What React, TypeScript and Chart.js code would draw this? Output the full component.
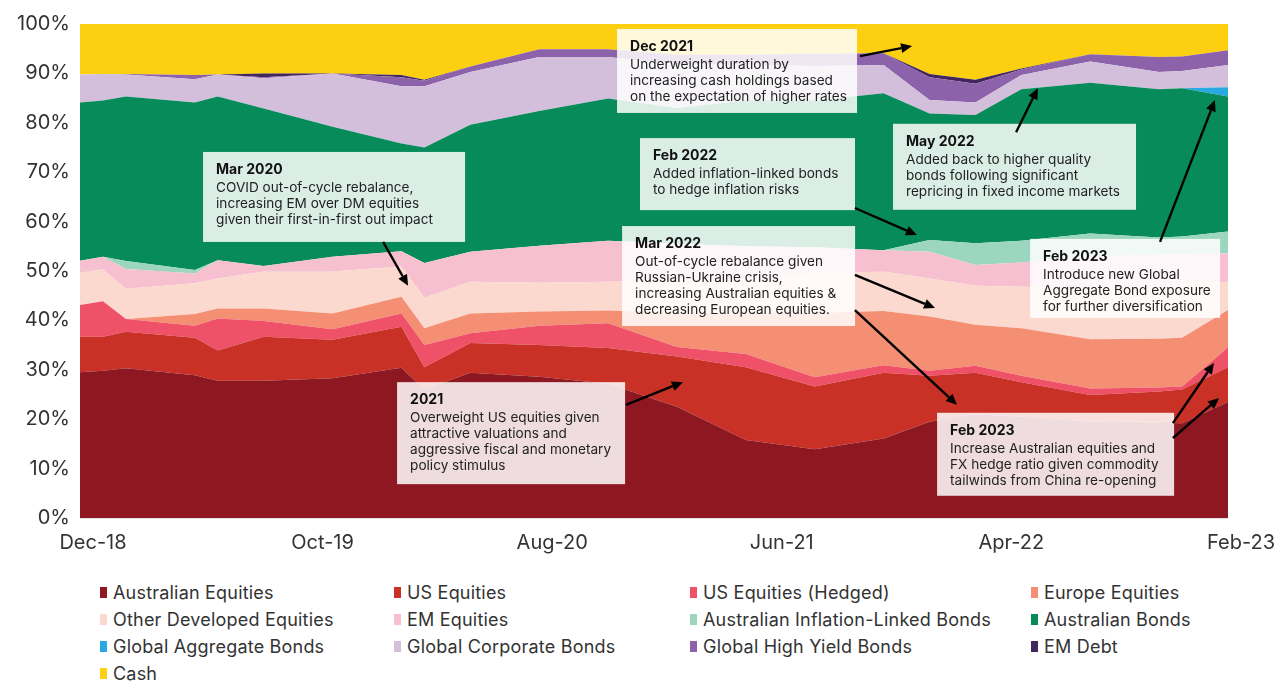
import { useEffect, useRef } from 'react';
import { Chart, registerables } from 'chart.js';

Chart.register(...registerables);

const FONT = 'Inter, "Noto Sans", "DejaVu Sans", sans-serif';

// months since Dec-18 at which allocations are recorded
const months = [0, 1, 2, 5, 6, 8, 11, 14, 15, 17, 20, 23, 26, 29, 32, 35, 37, 39, 41, 44, 47, 48, 50];
const xTickLabels = ['Dec-18', 'Oct-19', 'Aug-20', 'Jun-21', 'Apr-22', 'Feb-23'];

const australianEquities = [29.5, 29.8, 30.3, 28.9, 27.8, 27.8, 28.3, 30.4, 26.0, 29.4, 28.6, 27.2, 22.5, 15.8, 13.9, 16.1, 19.5, 21.0, 20.5, 19.5, 19.3, 19.2, 23.5];
const usEquities = [7.2, 6.9, 7.4, 7.6, 6.1, 8.9, 7.8, 8.3, 4.5, 6.0, 6.4, 7.2, 10.2, 14.7, 12.7, 13.3, 9.3, 8.4, 7.0, 5.4, 6.3, 6.8, 7.0];
const usEquitiesHedged = [6.4, 7.2, 2.6, 2.4, 6.5, 3.2, 2.1, 2.7, 4.5, 2.0, 3.9, 5.0, 1.9, 2.7, 1.9, 1.5, 1.0, 1.4, 1.3, 1.3, 0.8, 0.6, 4.0];
const europeEquities = [0, 0, 0, 2.4, 2.0, 2.5, 3.2, 3.4, 3.4, 4.0, 2.9, 2.6, 6.9, 8.3, 13.0, 11.0, 11.0, 8.3, 9.6, 10.0, 9.9, 9.9, 7.6];
const otherDevelopedEquities = [6.6, 6.4, 6.1, 6.2, 6.1, 7.5, 8.5, 6.1, 6.2, 6.4, 5.8, 5.8, 6.5, 7.0, 8.0, 8.0, 7.7, 7.9, 8.4, 10.3, 10.7, 10.8, 5.7];
const emEquities = [2.4, 2.6, 4.0, 2.0, 3.7, 1.1, 3.0, 3.1, 7.0, 6.1, 7.5, 8.3, 7.5, 6.5, 5.3, 4.3, 5.4, 4.2, 4.9, 6.5, 6.3, 6.1, 5.8];
const ausInflationLinked = [0, 0, 1.6, 0.7, 0, 0, 0, 0, 0, 0, 0, 0, 0, 0, 0, 0, 2.4, 4.4, 4.4, 4.6, 3.5, 3.6, 4.4];
const australianBonds = [32.0, 31.6, 33.3, 33.9, 33.1, 31.9, 26.3, 21.8, 23.4, 25.7, 27.3, 28.8, 27.5, 29.5, 29.7, 31.8, 25.6, 26.0, 30.7, 30.5, 30.0, 30.0, 27.3];
const globalAggregateBonds = [0, 0, 0, 0, 0, 0, 0, 0, 0, 0, 0, 0, 0, 0, 0, 0, 0, 0, 0, 0, 0, 0, 1.9];
const globalCorporateBonds = [5.7, 5.4, 4.5, 4.7, 4.5, 6.1, 10.8, 11.6, 12.4, 10.7, 10.9, 8.4, 8.8, 7.3, 7.0, 5.7, 2.7, 2.5, 2.9, 4.3, 3.5, 3.5, 4.5];
const globalHighYield = [0, 0, 0.1, 0.9, 0, 0.2, 0, 1.8, 1.1, 1.1, 1.6, 1.6, 2.0, 2.0, 2.5, 2.4, 4.6, 3.8, 1.1, 1.5, 3.0, 2.9, 3.0];
const emDebt = [0, 0, 0, 0, 0, 0.8, 0, 0.5, 0.2, 0, 0, 0, 0, 0, 0, 0, 0.7, 0.8, 0.2, 0, 0, 0, 0];
const cash = [10.2, 10.1, 10.1, 10.3, 10.2, 10.0, 10.0, 10.3, 11.3, 8.6, 5.1, 5.1, 6.2, 6.2, 6.0, 5.9, 10.1, 11.3, 9.0, 6.1, 6.7, 6.6, 5.3];

const seriesLabels = [
  'Australian Equities', 'US Equities', 'US Equities (Hedged)', 'Europe Equities',
  'Other Developed Equities', 'EM Equities', 'Australian Inflation-Linked Bonds', 'Australian Bonds',
  'Global Aggregate Bonds', 'Global Corporate Bonds', 'Global High Yield Bonds', 'EM Debt', 'Cash',
];
const seriesColors = [
  '#8e1822', '#c93127', '#ef5168', '#f48f74', '#fbd9cf', '#f7c0d1', '#9dd6bf', '#078b5b',
  '#28a9e1', '#d3bfdc', '#8c62aa', '#42275f', '#fccf10',
];
const seriesValues = [
  australianEquities, usEquities, usEquitiesHedged, europeEquities, otherDevelopedEquities, emEquities,
  ausInflationLinked, australianBonds, globalAggregateBonds, globalCorporateBonds, globalHighYield, emDebt, cash,
];

// annotation boxes: anchor (month, %) of top-left corner, size in px
const notes = [
  { x: 5.36, y: 74.1, w: 262, h: 90, title: 'Mar 2020', lines: ['COVID out-of-cycle rebalance,', 'increasing EM over DM equities', 'given their first-in-first out impact'] },
  { x: 13.81, y: 27.5, w: 228, h: 102, title: '2021', lines: ['Overweight US equities given', 'attractive valuations and', 'aggressive fiscal and monetary', 'policy stimulus'] },
  { x: 23.39, y: 99.0, w: 240, h: 84, title: 'Dec 2021', lines: ['Underweight duration by', 'increasing cash holdings based', 'on the expectation of higher rates'] },
  { x: 24.39, y: 76.9, w: 215, h: 72, title: 'Feb 2022', lines: ['Added inflation-linked bonds', 'to hedge inflation risks'] },
  { x: 23.61, y: 59.1, w: 233, h: 100, title: 'Mar 2022', lines: ['Out-of-cycle rebalance given', 'Russian-Ukraine crisis,', 'increasing Australian equities &', 'decreasing European equities.'] },
  { x: 35.41, y: 79.8, w: 243, h: 86, title: 'May 2022', lines: ['Added back to higher quality', 'bonds following significant', 'repricing in fixed income markets'] },
  { x: 41.38, y: 56.5, w: 190, h: 79, title: 'Feb 2023', lines: ['Introduce new Global', 'Aggregate Bond exposure', 'for further diversification'] },
  { x: 37.33, y: 21.3, w: 237, h: 83, title: 'Feb 2023', lines: ['Increase Australian equities and', 'FX hedge ratio given commodity', 'tailwinds from China re-opening'] },
];

// arrows: [fromMonth, from%, toMonth, to%]
const arrows = [
  [13.2, 55.9, 14.29, 47.0],
  [23.78, 22.9, 26.26, 27.5],
  [33.97, 93.5, 36.24, 95.55],
  [33.75, 62.75, 36.45, 57.3],
  [33.75, 49.2, 37.24, 42.5],
  [33.75, 42.1, 38.2, 22.9],
  [40.77, 78.1, 41.72, 87.0],
  [47.04, 55.9, 49.43, 84.6],
  [47.6, 19.2, 49.39, 31.4],
  [47.6, 16.2, 49.61, 24.3],
];

const legendColumns = [100, 394, 690, 1031];
const legendRows = [592, 619, 646, 673];

const notesPlugin = {
  id: 'notes',
  afterDraw(chart: any) {
    const { ctx, scales } = chart;
    const xs = scales.x;
    const ys = scales.y;
    ctx.save();
    notes.forEach((n) => {
      const left = xs.getPixelForValue(n.x);
      const top = ys.getPixelForValue(n.y);
      ctx.fillStyle = 'rgba(255,255,255,0.85)';
      ctx.fillRect(left, top, n.w, n.h);
      ctx.textBaseline = 'middle';
      ctx.textAlign = 'left';
      ctx.fillStyle = '#111';
      ctx.font = `bold 14px ${FONT}`;
      const ty = top + 18;
      ctx.fillText(n.title, left + 13, ty);
      ctx.font = `13.6px ${FONT}`;
      ctx.fillStyle = '#222';
      n.lines.forEach((l, i) => ctx.fillText(l, left + 13, ty + 18 + i * 16));
    });
    arrows.forEach(([m1, v1, m2, v2]) => {
      const x1 = xs.getPixelForValue(m1);
      const y1 = ys.getPixelForValue(v1);
      const x2 = xs.getPixelForValue(m2);
      const y2 = ys.getPixelForValue(v2);
      const ang = Math.atan2(y2 - y1, x2 - x1);
      const head = 11;
      const hw = 5;
      const bx = x2 - head * Math.cos(ang);
      const by = y2 - head * Math.sin(ang);
      ctx.strokeStyle = '#000';
      ctx.lineWidth = 2.4;
      ctx.beginPath();
      ctx.moveTo(x1, y1);
      ctx.lineTo(bx, by);
      ctx.stroke();
      ctx.fillStyle = '#000';
      ctx.beginPath();
      ctx.moveTo(x2, y2);
      ctx.lineTo(bx + hw * Math.sin(ang), by - hw * Math.cos(ang));
      ctx.lineTo(bx - hw * Math.sin(ang), by + hw * Math.cos(ang));
      ctx.closePath();
      ctx.fill();
    });
    ctx.restore();
  },
};

export default function App() {
  const ref = useRef<HTMLCanvasElement>(null);

  useEffect(() => {
    if (!ref.current) return;
    const chart = new Chart(ref.current, {
      type: 'line',
      data: {
        datasets: seriesLabels.map((label, i) => ({
          label,
          data: months.map((m, j) => ({ x: m, y: seriesValues[i][j] })),
          backgroundColor: seriesColors[i],
          borderColor: seriesColors[i],
          borderWidth: 0,
          pointRadius: 0,
          tension: 0,
          fill: i === 0 ? 'origin' : '-1',
        })),
      },
      options: {
        responsive: false,
        animation: false,
        layout: { padding: { top: 24, right: 54, left: 0, bottom: 0 } },
        plugins: { legend: { display: false }, tooltip: { enabled: false } },
        scales: {
          x: {
            type: 'linear',
            min: 0,
            max: 50,
            grid: { display: false, drawTicks: false },
            border: { display: false },
            ticks: {
              stepSize: 10,
              autoSkip: false,
              maxRotation: 0,
              labelOffset: 13,
              padding: 13,
              color: '#333',
              font: { family: FONT, size: 20 },
              callback: (v: any) => xTickLabels[Math.round(Number(v) / 10)],
            },
            afterFit: (a: any) => { a.height = 52; },
          },
          y: {
            stacked: true,
            min: 0,
            max: 100,
            grid: { color: '#e2e2e2', drawTicks: false },
            border: { display: false },
            ticks: {
              stepSize: 10,
              padding: 10,
              color: '#333',
              font: { family: FONT, size: 20 },
              callback: (v: any) => `${v}%`,
            },
            afterFit: (a: any) => { a.width = 80; },
          },
        },
      },
      plugins: [notesPlugin],
    });
    return () => chart.destroy();
  }, []);

  return (
    <div style={{ position: 'fixed', left: 0, top: 0, width: 1282, height: 682, overflow: 'hidden', background: '#fff' }}>
      <canvas ref={ref} width={1282} height={570} style={{ position: 'absolute', left: 0, top: 0, width: 1282, height: 570 }} />
      {seriesLabels.map((label, i) => (
        <div
          key={label}
          style={{
            position: 'absolute',
            left: legendColumns[i % 4],
            top: legendRows[Math.floor(i / 4)] - 12,
            height: 24,
            display: 'flex',
            alignItems: 'center',
            fontFamily: FONT,
            fontSize: 18,
            letterSpacing: '0.2px',
            color: '#333',
            whiteSpace: 'nowrap',
          }}
        >
          <span style={{ display: 'inline-block', width: 7, height: 11, background: seriesColors[i], marginRight: 6 }} />
          {label}
        </div>
      ))}
    </div>
  );
}
